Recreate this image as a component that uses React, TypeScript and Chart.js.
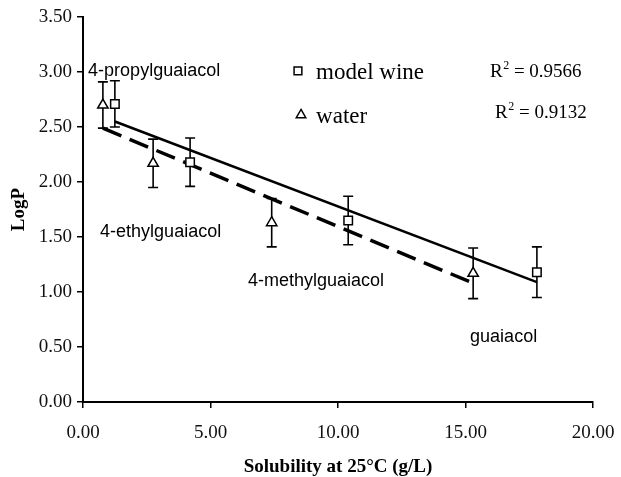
import { useEffect, useRef } from 'react';
import { Chart, registerables } from 'chart.js';

Chart.register(...registerables);

// ---- data ----
const seriesNames = ['model wine', 'water'];
const wineX = [1.25, 4.2, 10.4, 17.8];
const wineY = [2.71, 2.18, 1.65, 1.18];
const wineErr = [0.21, 0.22, 0.22, 0.23];
const waterX = [0.78, 2.75, 7.4, 15.3];
const waterY = [2.7, 2.17, 1.63, 1.17];
const waterErr = [0.21, 0.22, 0.22, 0.23];
const wineFitX = [1.25, 17.8];
const wineFitY = [2.55, 1.09];
const waterFitX = [0.78, 15.3];
const waterFitY = [2.49, 1.08];
const r2Values = ['0.9566', '0.9132'];
const compoundNames = ['4-propylguaiacol', '4-ethylguaiacol', '4-methylguaiacol', 'guaiacol'];
const xAxisTitle = 'Solubility at 25°C (g/L)';
const yAxisTitle = 'LogP';

// label anchor points (data coordinates)
const compoundLabelPos = [
  [0.2, 2.96],
  [0.67, 1.5],
  [6.47, 1.055],
  [15.18, 0.545],
];
const legendPos = [
  [8.43, 3.01, 9.14, 2.94],
  [8.55, 2.61, 9.14, 2.54],
];
const r2Pos = [
  [15.96, 2.955],
  [16.16, 2.58],
];

const SERIF = '"Liberation Serif", "Times New Roman", serif';
const SANS = '"Liberation Sans", Arial, sans-serif';

const toPts = (xs: number[], ys: number[]) => xs.map((x, i) => ({ x, y: ys[i] }));

const drawMarker = (ctx: CanvasRenderingContext2D, style: string, x: number, y: number, r: number) => {
  ctx.save();
  ctx.fillStyle = '#fff';
  ctx.strokeStyle = '#000';
  ctx.lineWidth = 1.5;
  ctx.beginPath();
  if (style === 'rect') {
    const s = r * Math.SQRT1_2;
    ctx.rect(x - s, y - s, 2 * s, 2 * s);
  } else {
    ctx.moveTo(x, y - r);
    ctx.lineTo(x + (r * Math.sqrt(3)) / 2, y + r / 2);
    ctx.lineTo(x - (r * Math.sqrt(3)) / 2, y + r / 2);
    ctx.closePath();
  }
  ctx.fill();
  ctx.stroke();
  ctx.restore();
};

const annotPlugin = {
  id: 'annot',
  beforeDatasetsDraw(chart: any) {
    const { ctx, scales } = chart;
    const xs = scales.x;
    const ys = scales.y;
    const sets = [
      [wineX, wineY, wineErr],
      [waterX, waterY, waterErr],
    ];
    ctx.save();
    ctx.strokeStyle = '#000';
    ctx.lineWidth = 1.6;
    sets.forEach(([xv, yv, ev]) => {
      xv.forEach((x: number, i: number) => {
        const px = xs.getPixelForValue(x);
        const top = ys.getPixelForValue(yv[i] + ev[i]);
        const bot = ys.getPixelForValue(yv[i] - ev[i]);
        const cap = 5;
        ctx.beginPath();
        ctx.moveTo(px, top);
        ctx.lineTo(px, bot);
        ctx.moveTo(px - cap, top);
        ctx.lineTo(px + cap, top);
        ctx.moveTo(px - cap, bot);
        ctx.lineTo(px + cap, bot);
        ctx.stroke();
      });
    });
    ctx.restore();
  },
  afterDatasetsDraw(chart: any) {
    const { ctx, scales } = chart;
    const xs = scales.x;
    const ys = scales.y;
    const P = (x: number, y: number) => [xs.getPixelForValue(x), ys.getPixelForValue(y)];
    ctx.save();
    ctx.fillStyle = '#000';
    ctx.textBaseline = 'alphabetic';
    ctx.textAlign = 'left';
    // compound labels
    ctx.font = `18px ${SANS}`;
    compoundNames.forEach((name, i) => {
      const [px, py] = P(compoundLabelPos[i][0], compoundLabelPos[i][1]);
      ctx.fillText(name, px, py);
    });
    // legend
    const styles = ['rect', 'triangle'];
    seriesNames.forEach((name, i) => {
      const [mx, my] = P(legendPos[i][0], legendPos[i][1]);
      drawMarker(ctx, styles[i], mx, my, 5.5);
      const [tx, ty] = P(legendPos[i][2], legendPos[i][3]);
      ctx.fillStyle = '#000';
      ctx.font = `23px ${SERIF}`;
      ctx.fillText(name, tx, ty);
    });
    // R^2
    r2Values.forEach((v, i) => {
      const [px, py] = P(r2Pos[i][0], r2Pos[i][1]);
      ctx.font = `19px ${SERIF}`;
      ctx.fillText('R', px, py);
      const w = ctx.measureText('R').width;
      ctx.font = `12px ${SERIF}`;
      ctx.fillText('2', px + w + 0.5, py - 8);
      const w2 = ctx.measureText('2').width;
      ctx.font = `19px ${SERIF}`;
      ctx.fillText(' = ' + v, px + w + w2 + 0.5, py);
    });
    ctx.restore();
  },
};

export default function App() {
  const ref = useRef<HTMLCanvasElement | null>(null);
  useEffect(() => {
    document.body.style.margin = '0';
    if (!ref.current) return;
    const chart = new Chart(ref.current, {
      type: 'scatter',
      data: {
        datasets: [
          {
            label: seriesNames[0],
            data: toPts(wineX, wineY),
            pointStyle: 'rect',
            pointRadius: 6,
            pointBackgroundColor: '#fff',
            pointBorderColor: '#000',
            pointBorderWidth: 1.5,
          },
          {
            label: seriesNames[1],
            data: toPts(waterX, waterY),
            pointStyle: 'triangle',
            pointRadius: 6,
            pointBackgroundColor: '#fff',
            pointBorderColor: '#000',
            pointBorderWidth: 1.5,
          },
          {
            label: 'model wine fit',
            data: toPts(wineFitX, wineFitY),
            showLine: true,
            pointRadius: 0,
            borderColor: '#000',
            borderWidth: 2.5,
          },
          {
            label: 'water fit',
            data: toPts(waterFitX, waterFitY),
            showLine: true,
            pointRadius: 0,
            borderColor: '#000',
            borderWidth: 3.5,
            borderDash: [20, 9],
          },
        ],
      },
      options: {
        animation: false,
        responsive: true,
        maintainAspectRatio: false,
        layout: { padding: { top: 17, right: 28, left: 0, bottom: 0 } },
        plugins: {
          legend: { display: false },
          tooltip: { enabled: false },
        },
        scales: {
          x: {
            type: 'linear',
            min: 0,
            max: 20,
            afterFit(scale: any) {
              scale.height = 75;
              scale.paddingRight = 0;
              scale.paddingLeft = 0;
            },
            ticks: {
              stepSize: 5,
              padding: 14,
              color: '#111',
              font: { family: SERIF, size: 19 },
              callback: (v: any) => Number(v).toFixed(2),
            },
            grid: {
              display: true,
              drawOnChartArea: false,
              drawTicks: true,
              tickLength: 6,
              color: '#000',
              lineWidth: 1.5,
            },
            border: { color: '#000', width: 2 },
            title: {
              display: true,
              text: xAxisTitle,
              color: '#000',
              font: { family: SERIF, size: 19, weight: 'bold', lineHeight: 1 },
              padding: { top: 0, bottom: 0 },
            },
          },
          y: {
            type: 'linear',
            min: 0,
            max: 3.5,
            afterFit(scale: any) {
              scale.width = 83;
              scale.paddingTop = 0;
              scale.paddingBottom = 0;
            },
            ticks: {
              stepSize: 0.5,
              padding: 5,
              color: '#111',
              font: { family: SERIF, size: 19 },
              callback: (v: any) => Number(v).toFixed(2),
            },
            grid: {
              display: true,
              drawOnChartArea: false,
              drawTicks: true,
              tickLength: 6,
              color: '#000',
              lineWidth: 1.5,
            },
            border: { color: '#000', width: 2 },
            title: {
              display: true,
              text: yAxisTitle,
              color: '#000',
              font: { family: SERIF, size: 19, weight: 'bold', lineHeight: 1 },
              padding: { top: 10, bottom: 0 },
            },
          },
        },
      },
      plugins: [annotPlugin],
    });
    return () => chart.destroy();
  }, []);
  return (
    <div style={{ width: 621, height: 477, position: 'relative', background: '#fff' }}>
      <canvas ref={ref} />
    </div>
  );
}
